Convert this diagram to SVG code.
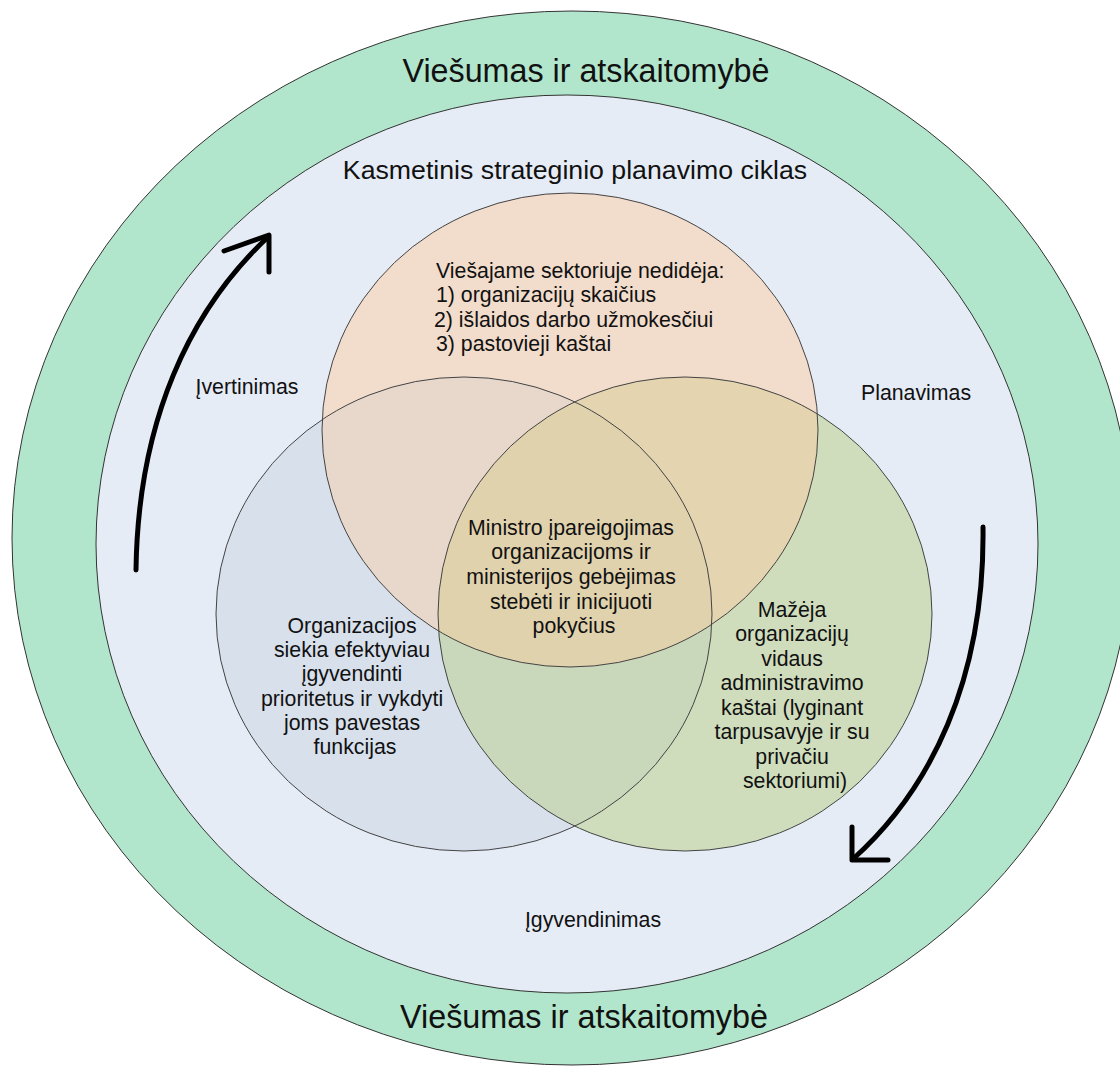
<svg xmlns="http://www.w3.org/2000/svg" width="1120" height="1067" viewBox="0 0 1120 1067">
<style>
  text { font-family: "Liberation Sans", Arial, sans-serif; fill: #111; }
  .big { font-size: 34px; }
  .mid { font-size: 26.7px; }
  .sm { font-size: 21.3px; }
  .ring { stroke: #333; stroke-width: 1; }
  .vline { fill: none; stroke: #444; stroke-width: 1; }
  .arrow { fill: none; stroke: #000; stroke-width: 5; stroke-linecap: round; stroke-linejoin: round; }
</style>
<defs>
  <clipPath id="cTop"><ellipse cx="570" cy="430" rx="248" ry="237"/></clipPath>
  <clipPath id="cLeft"><ellipse cx="464" cy="614" rx="248" ry="237"/></clipPath>
  <clipPath id="cRight"><ellipse cx="685" cy="614" rx="247" ry="237"/></clipPath>
</defs>
<rect width="1120" height="1067" fill="#fff"/>
<g id="outer-ring">
  <ellipse class="ring" cx="572" cy="538" rx="560" ry="527" fill="#B2E6CC"/>
  <text class="big" x="586" y="82" text-anchor="middle" textLength="367" lengthAdjust="spacingAndGlyphs">Viešumas ir atskaitomybė</text>
  <text class="big" x="584" y="1028" text-anchor="middle" textLength="368" lengthAdjust="spacingAndGlyphs">Viešumas ir atskaitomybė</text>
</g>
<g id="cycle">
  <ellipse class="ring" cx="567" cy="544" rx="471" ry="449" fill="#E6ECF6"/>
  <text class="mid" x="575" y="179" text-anchor="middle">Kasmetinis strateginio planavimo ciklas</text>
  <text class="sm" x="247" y="394" text-anchor="middle">Įvertinimas</text>
  <text class="sm" x="916" y="400" text-anchor="middle">Planavimas</text>
  <text class="sm" x="593" y="927" text-anchor="middle">Įgyvendinimas</text>
</g>
<g id="venn-fills">
  <ellipse cx="570" cy="430" rx="248" ry="237" fill="#F2DCCB"/>
  <ellipse cx="464" cy="614" rx="248" ry="237" fill="#D8E0EC"/>
  <ellipse cx="685" cy="614" rx="247" ry="237" fill="#D0DDBD"/>
  <g clip-path="url(#cTop)">
    <ellipse cx="464" cy="614" rx="248" ry="237" fill="#E8D8CC"/>
    <ellipse cx="685" cy="614" rx="247" ry="237" fill="#E4D4AF"/>
  </g>
  <g clip-path="url(#cLeft)">
    <ellipse cx="685" cy="614" rx="247" ry="237" fill="#C9D7BB"/>
  </g>
  <g clip-path="url(#cTop)"><g clip-path="url(#cLeft)">
    <ellipse cx="685" cy="614" rx="247" ry="237" fill="#E1D2AE"/>
  </g></g>
</g>
<g id="node-top">
  <ellipse class="vline" cx="570" cy="430" rx="248" ry="237"/>
  <text class="sm" x="436" y="278">Viešajame sektoriuje nedidėja:</text>
  <text class="sm" x="436" y="302">1) organizacijų skaičius</text>
  <text class="sm" x="434" y="327">2) išlaidos darbo užmokesčiui</text>
  <text class="sm" x="436" y="351">3) pastovieji kaštai</text>
</g>
<g id="node-left">
  <ellipse class="vline" cx="464" cy="614" rx="248" ry="237"/>
  <text class="sm" text-anchor="middle">
    <tspan x="355" y="633">Organizacijos</tspan>
    <tspan x="355" y="657">siekia efektyviau</tspan>
    <tspan x="355" y="681">įgyvendinti</tspan>
    <tspan x="355" y="706">prioritetus ir vykdyti</tspan>
    <tspan x="355" y="730">joms pavestas</tspan>
    <tspan x="355" y="754">funkcijas</tspan>
  </text>
</g>
<g id="node-right">
  <ellipse class="vline" cx="685" cy="614" rx="247" ry="237"/>
  <text class="sm" text-anchor="middle">
    <tspan x="795" y="617">Mažėja</tspan>
    <tspan x="795" y="641">organizacijų</tspan>
    <tspan x="795" y="666">vidaus</tspan>
    <tspan x="795" y="690">administravimo</tspan>
    <tspan x="795" y="715">kaštai (lyginant</tspan>
    <tspan x="795" y="739">tarpusavyje ir su</tspan>
    <tspan x="795" y="764">privačiu</tspan>
    <tspan x="795" y="788">sektoriumi)</tspan>
  </text>
</g>
<g id="node-center">
  <text class="sm" text-anchor="middle">
    <tspan x="574" y="535">Ministro įpareigojimas</tspan>
    <tspan x="574" y="559">organizacijoms ir</tspan>
    <tspan x="574" y="584">ministerijos gebėjimas</tspan>
    <tspan x="574" y="609">stebėti ir inicijuoti</tspan>
    <tspan x="574" y="633">pokyčius</tspan>
  </text>
</g>
<g id="connectors">
  <path class="arrow" d="M136,570 C138,420 190,310 268,237"/>
  <path class="arrow" d="M224,251 L269,235 L269,272"/>
  <path class="arrow" d="M983,527 C985,680 930,790 853,859"/>
  <path class="arrow" d="M852,827 L852,860 L888,860"/>
</g>
</svg>
